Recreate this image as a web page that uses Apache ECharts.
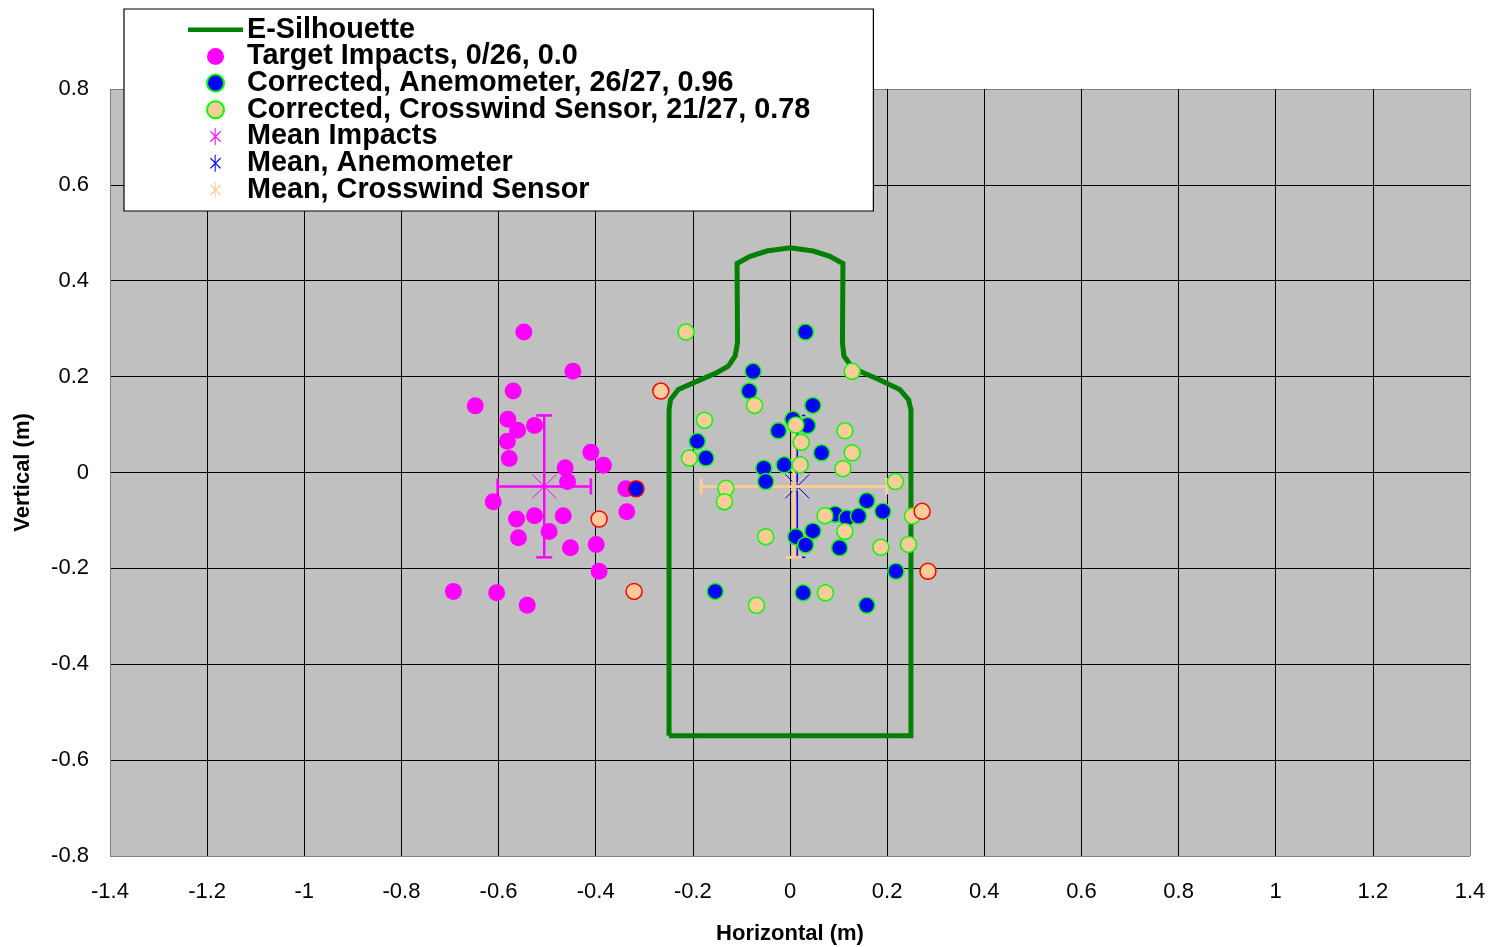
<!DOCTYPE html>
<html>
<head>
<meta charset="utf-8">
<title>Impacts on E-Silhouette</title>
<script src="https://cdn.jsdelivr.net/npm/echarts@6/dist/echarts.min.js"></script>
<style>
  html, body { margin: 0; padding: 0; background: #ffffff; }
  #chart { width: 1490px; height: 947px; }
</style>
</head>
<body>
<div id="chart"></div>
<script>
// Axis ticks
const xTicks = [-1.4, -1.2, -1, -0.8, -0.6, -0.4, -0.2, 0, 0.2, 0.4, 0.6, 0.8, 1, 1.2, 1.4];
const yTicks = [-0.8, -0.6, -0.4, -0.2, 0, 0.2, 0.4, 0.6, 0.8];

// E-Silhouette outline (m)
const silhouetteX = [-0.249, 0.249, 0.249, 0.248, 0.244, 0.226, 0.185, 0.144, 0.124, 0.111, 0.108, 0.109,
  0.082, 0.048, 0, -0.048, -0.082, -0.109, -0.108, -0.113, -0.127, -0.151, -0.192, -0.230, -0.246, -0.249, -0.249];
const silhouetteY = [-0.549, -0.549, 0.131, 0.131, 0.152, 0.173, 0.193, 0.211, 0.225, 0.243, 0.271, 0.436,
  0.451, 0.462, 0.469, 0.462, 0.451, 0.436, 0.271, 0.243, 0.222, 0.208, 0.190, 0.173, 0.152, 0.131, -0.549];

// Target impacts (m)
const impactX = [-0.548, -0.447, -0.570, -0.648, -0.581, -0.561, -0.526, -0.582, -0.578, -0.410, -0.384, -0.463, -0.458, -0.611,
  -0.338, -0.336, -0.563, -0.526, -0.467, -0.496, -0.559, -0.452, -0.399, -0.393, -0.693, -0.604, -0.541];
const impactY = [0.293, 0.211, 0.170, 0.139, 0.111, 0.088, 0.098, 0.065, 0.029, 0.042, 0.015, 0.010, -0.019, -0.061,
  -0.034, -0.082, -0.097, -0.090, -0.090, -0.123, -0.136, -0.157, -0.150, -0.206, -0.248, -0.251, -0.277];

// Corrected with anemometer: hits and misses
const anemoHitX = [0.032, -0.076, -0.084, 0.047, 0.006, 0.036, -0.024, 0.065, -0.191, -0.173, -0.054, -0.012, -0.050,
  0.158, 0.191, 0.093, 0.117, 0.141, 0.047, 0.012, 0.032, 0.102, 0.218, -0.154, 0.027, 0.158];
const anemoHitY = [0.293, 0.211, 0.170, 0.140, 0.111, 0.098, 0.087, 0.041, 0.065, 0.030, 0.009, 0.016, -0.019,
  -0.059, -0.081, -0.087, -0.095, -0.091, -0.122, -0.134, -0.151, -0.157, -0.206, -0.248, -0.251, -0.277];
const anemoMissX = [-0.317];
const anemoMissY = [-0.034];

// Corrected with crosswind sensor: hits and misses
const crossHitX = [-0.214, 0.128, -0.073, -0.176, 0.012, 0.023, 0.113, 0.128, -0.207, 0.021, 0.109, 0.217, -0.132,
  -0.135, 0.072, 0.252, 0.113, -0.050, 0.187, 0.244, -0.069, 0.073];
const crossHitY = [0.293, 0.211, 0.140, 0.109, 0.099, 0.063, 0.087, 0.041, 0.030, 0.016, 0.008, -0.019, -0.033,
  -0.061, -0.090, -0.091, -0.123, -0.134, -0.156, -0.150, -0.277, -0.251];
const crossMissX = [0.272, 0.284, -0.266, -0.393, -0.321];
const crossMissY = [-0.081, -0.206, 0.170, -0.097, -0.248];

// Means with one-standard-deviation bars: [x, y, xSpread, ySpread]
const meanImpacts = [-0.506, -0.029, 0.096, 0.148];
const meanAnemometer = [0.015, -0.029, 0, 0.148];
const meanCrosswind = [0.008, -0.029, 0.191, 0.148];

// Legend names
const names = [
  'E-Silhouette',
  'Target Impacts, 0/26, 0.0',
  'Corrected, Anemometer, 26/27, 0.96',
  'Corrected, Crosswind Sensor, 21/27, 0.78',
  'Mean Impacts',
  'Mean, Anemometer',
  'Mean, Crosswind Sensor'
];

const FONT = '"Liberation Sans", Arial, sans-serif';
const HIT = '#00ff00';
const MISS = '#ff0000';

function pairs(xs, ys) { return xs.map((x, i) => [x, ys[i]]); }
function outlined(xs, ys, border) {
  return xs.map((x, i) => ({ value: [x, ys[i]], itemStyle: { borderColor: border } }));
}
function fmt(v) { return String(+(+v).toFixed(1)); }

// asterisk icon (vertical stroke with a cross), as a filled path
const asteriskIcon = 'path://M32,0 L38,0 L38,100 L32,100 Z ' +
  'M9.8,17.6 L69.8,77.6 L64.2,82.4 L4.2,22.4 Z ' +
  'M64.2,17.6 L69.8,22.4 L9.8,82.4 L4.2,77.6 Z';
// thick line icon for the outline entry
const lineIcon = 'path://M0,0 L55,0 L55,4.5 L0,4.5 Z';

function meanRenderer(color, barWidth) {
  return function (params, api) {
    const x = api.value(0), y = api.value(1), ex = api.value(2), ey = api.value(3);
    const c = api.coord([x, y]);
    const bar = { stroke: color, lineWidth: barWidth, fill: null };
    const thin = { stroke: color, lineWidth: 1, fill: null };
    const kids = [];
    const cap = 8, arm = 12;
    if (ex > 0) {
      const l = api.coord([x - ex, y]), r = api.coord([x + ex, y]);
      kids.push({ type: 'line', shape: { x1: l[0], y1: l[1], x2: r[0], y2: r[1] }, style: bar });
      kids.push({ type: 'line', shape: { x1: l[0], y1: l[1] - cap, x2: l[0], y2: l[1] + cap }, style: bar });
      kids.push({ type: 'line', shape: { x1: r[0], y1: r[1] - cap, x2: r[0], y2: r[1] + cap }, style: bar });
    }
    if (ey > 0) {
      const t = api.coord([x, y + ey]), b = api.coord([x, y - ey]);
      kids.push({ type: 'line', shape: { x1: t[0], y1: t[1], x2: b[0], y2: b[1] }, style: bar });
      kids.push({ type: 'line', shape: { x1: t[0] - cap, y1: t[1], x2: t[0] + cap, y2: t[1] }, style: bar });
      kids.push({ type: 'line', shape: { x1: b[0] - cap, y1: b[1], x2: b[0] + cap, y2: b[1] }, style: bar });
    }
    kids.push({ type: 'line', shape: { x1: c[0] - arm, y1: c[1] - arm, x2: c[0] + arm, y2: c[1] + arm }, style: thin });
    kids.push({ type: 'line', shape: { x1: c[0] - arm, y1: c[1] + arm, x2: c[0] + arm, y2: c[1] - arm }, style: thin });
    kids.push({ type: 'line', shape: { x1: c[0], y1: c[1] - arm, x2: c[0], y2: c[1] + arm }, style: thin });
    return { type: 'group', children: kids };
  };
}

// border lines of the plot are gray, inner grid lines black
function splitColors(n) {
  const arr = [];
  for (let i = 0; i < n; i++) arr.push(i === 0 || i === n - 1 ? '#808080' : '#000000');
  return arr;
}

const chart = echarts.init(document.getElementById('chart'), null, { renderer: 'canvas' });

const option = {
  animation: false,
  backgroundColor: '#ffffff',
  textStyle: { fontFamily: FONT },
  grid: {
    left: 110, right: 20, top: 89, bottom: 91,
    containLabel: false, outerBoundsMode: 'none',
    show: true, backgroundColor: '#c0c0c0', borderWidth: 0
  },
  legend: {
    orient: 'vertical',
    left: 124, top: 9,
    padding: [6.2, 63, 6.6, 64],
    itemWidth: 55, itemHeight: 17, itemGap: -2.3,
    symbolKeepAspect: true,
    backgroundColor: '#ffffff',
    borderColor: '#000000', borderWidth: 1.2, borderRadius: 0,
    selectedMode: false,
    textStyle: { fontFamily: FONT, fontSize: 28.8, fontWeight: 'bold', color: '#000000', padding: [0, 0, 0, -1] },
    data: [
      { name: names[0], icon: lineIcon, itemStyle: { color: '#008000', borderWidth: 0 }, lineStyle: { width: 0 } },
      { name: names[1] },
      { name: names[2] },
      { name: names[3] },
      { name: names[4], icon: asteriskIcon, itemStyle: { color: '#ff00ff', borderWidth: 0 } },
      { name: names[5], icon: asteriskIcon, itemStyle: { color: '#0000ff', borderWidth: 0 } },
      { name: names[6], icon: asteriskIcon, itemStyle: { color: '#ffcc99', borderWidth: 0 } }
    ]
  },
  xAxis: {
    type: 'value',
    min: xTicks[0], max: xTicks[xTicks.length - 1], interval: 0.2,
    name: 'Horizontal (m)', nameLocation: 'middle', nameGap: 67,
    nameTextStyle: { fontFamily: FONT, fontSize: 22, fontWeight: 'bold', color: '#000000' },
    axisLine: { show: false },
    axisTick: { show: false },
    axisLabel: { fontFamily: FONT, fontSize: 22, color: '#000000', margin: 25, formatter: fmt },
    splitLine: { show: true, lineStyle: { color: splitColors(xTicks.length), width: 1 } }
  },
  yAxis: {
    type: 'value',
    min: yTicks[0], max: yTicks[yTicks.length - 1], interval: 0.2,
    name: 'Vertical (m)', nameLocation: 'middle', nameGap: 76, nameRotate: 90,
    nameTextStyle: { fontFamily: FONT, fontSize: 22, fontWeight: 'bold', color: '#000000' },
    axisLine: { show: false },
    axisTick: { show: false },
    axisLabel: { fontFamily: FONT, fontSize: 22, color: '#000000', margin: 21, formatter: fmt },
    splitLine: { show: true, lineStyle: { color: splitColors(yTicks.length), width: 1 } }
  },
  series: [
    {
      name: names[0], type: 'line', z: 2,
      data: pairs(silhouetteX, silhouetteY),
      symbol: 'none', showSymbol: false,
      lineStyle: { color: '#008000', width: 5, join: 'miter' },
      itemStyle: { color: '#008000' }
    },
    {
      name: names[4], type: 'custom', z: 3,
      renderItem: meanRenderer('#ff00ff', 2.5),
      data: [meanImpacts],
      itemStyle: { color: '#ff00ff' }
    },
    {
      name: names[5], type: 'custom', z: 3,
      renderItem: meanRenderer('#0000ff', 1.5),
      data: [meanAnemometer],
      itemStyle: { color: '#0000ff' }
    },
    {
      name: names[6], type: 'custom', z: 3,
      renderItem: meanRenderer('#ffcc99', 3),
      data: [meanCrosswind],
      itemStyle: { color: '#ffcc99' }
    },
    {
      name: names[1], type: 'scatter', z: 4,
      symbol: 'circle', symbolSize: 17,
      data: pairs(impactX, impactY),
      itemStyle: { color: '#ff00ff', borderWidth: 0, opacity: 1 }
    },
    {
      name: names[2], type: 'scatter', z: 5,
      symbol: 'circle', symbolSize: 16,
      data: outlined(anemoHitX, anemoHitY, HIT).concat(outlined(anemoMissX, anemoMissY, MISS)),
      itemStyle: { color: '#0000ff', borderColor: HIT, borderWidth: 1.5, opacity: 1 }
    },
    {
      name: names[3], type: 'scatter', z: 6,
      symbol: 'circle', symbolSize: 16,
      data: outlined(crossHitX, crossHitY, HIT).concat(outlined(crossMissX, crossMissY, MISS)),
      itemStyle: { color: '#ffcc99', borderColor: HIT, borderWidth: 1.5, opacity: 1 }
    }
  ]
};

chart.setOption(option);
</script>
</body>
</html>
